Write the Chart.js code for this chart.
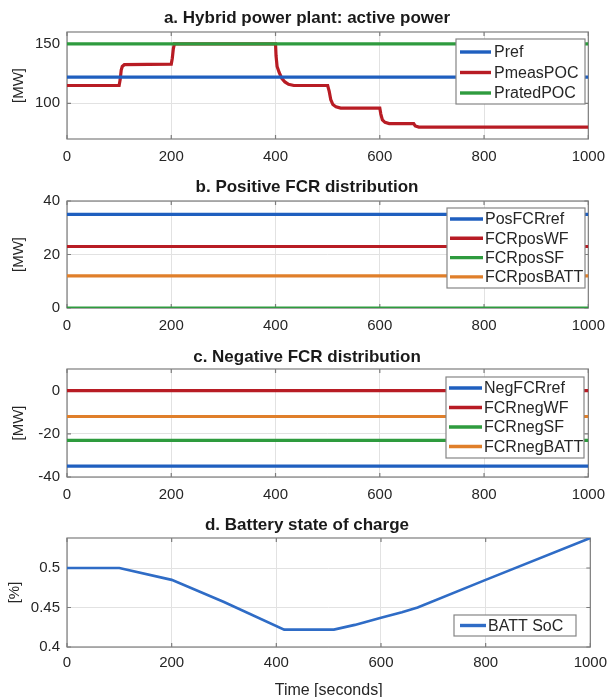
<!DOCTYPE html>
<html><head><meta charset="utf-8">
<script src="https://cdn.jsdelivr.net/npm/chart.js@4.4.0/dist/chart.umd.min.js"></script>
<style>
html,body{margin:0;padding:0;background:#fff;overflow:hidden;width:614px;height:697px;position:relative;}
canvas{position:absolute;left:0;}
</style></head><body>
<canvas id="ca" width="614" height="170" style="top:0px"></canvas>
<canvas id="cb" width="614" height="170" style="top:170px"></canvas>
<canvas id="cc" width="614" height="170" style="top:340px"></canvas>
<canvas id="cd" width="614" height="190" style="top:510px"></canvas>
<script>
// ---------- data ----------
const timeTicks = [0, 200, 400, 600, 800, 1000];

// a. Hybrid power plant: active power
const pref = [[0, 122], [1000, 122]];
const pmeasPOC = [[0,115],[100,115],[102,120],[104,128],[106,131],[110,132.5],[200,133],[202,138],[204,146],[206,150],[400,150],[401,140],[403,131],[407,126],[412,121],[418,118],[425,116],[435,115],[500,115],[503,110],[506,103],[510,99],[516,97],[525,96],[600,96],[602,91],[605,86],[610,84],[618,83],[665,83],[668,81],[675,80],[1000,80]];
const pratedPOC = [[0, 150], [1000, 150]];
const yTicksA = [100, 150];

// b. Positive FCR distribution
const posFCRref = [[0, 35], [1000, 35]];
const fcrPosWF = [[0, 23], [1000, 23]];
const fcrPosSF = [[0, 0], [1000, 0]];
const fcrPosBATT = [[0, 12], [1000, 12]];
const yTicksB = [0, 20, 40];

// c. Negative FCR distribution
const negFCRref = [[0, -35], [1000, -35]];
const fcrNegWF = [[0, 0], [1000, 0]];
const fcrNegSF = [[0, -23], [1000, -23]];
const fcrNegBATT = [[0, -12], [1000, -12]];
const yTicksC = [-40, -20, 0];

// d. Battery state of charge
const battSoC = [[0,0.5],[100,0.5],[200,0.485],[300,0.457],[415,0.422],[510,0.422],[550,0.428],[600,0.437],[640,0.444],[670,0.45],[800,0.485],[1000,0.538]];
const yTicksD = [0.4, 0.45, 0.5];

// ---------- styling ----------
const FONT = "'Liberation Sans', Arial, Helvetica, sans-serif";
Chart.defaults.font.family = FONT;
Chart.defaults.color = '#262626';
const C_BLUE = '#1f5fbf', C_RED = '#b81c24', C_GREEN = '#2e9b3e', C_ORANGE = '#e07f2a', C_SOC = '#2f6cc6';

const toXY = arr => arr.map(p => ({x: p[0], y: p[1]}));

const frameTicks = {
  id: 'frameTicks',
  beforeDatasetsDraw(chart) {
    const {ctx, chartArea: a, scales} = chart;
    ctx.save();
    ctx.strokeStyle = '#7d7d7d';
    ctx.lineWidth = 1.2;
    ctx.beginPath();
    scales.x.ticks.forEach(t => {
      const px = scales.x.getPixelForValue(t.value);
      ctx.moveTo(px, a.top); ctx.lineTo(px, a.top + 4);
      ctx.moveTo(px, a.bottom); ctx.lineTo(px, a.bottom - 4);
    });
    scales.y.ticks.forEach(t => {
      const py = scales.y.getPixelForValue(t.value);
      ctx.moveTo(a.left, py); ctx.lineTo(a.left + 4, py);
      ctx.moveTo(a.right, py); ctx.lineTo(a.right - 4, py);
    });
    ctx.stroke();
    ctx.strokeRect(a.left, a.top, a.width, a.height);
    ctx.restore();
  }
};

const boxLegend = {
  id: 'boxLegend',
  afterDatasetsDraw(chart, args, o) {
    const ctx = chart.ctx;
    const ds = chart.data.datasets;
    ctx.save();
    ctx.fillStyle = '#fff';
    ctx.fillRect(o.left, o.top, o.width, o.height);
    ctx.strokeStyle = '#858585';
    ctx.lineWidth = 1.2;
    ctx.strokeRect(o.left, o.top, o.width, o.height);
    ctx.font = o.fontSize + 'px ' + FONT;
    ctx.textBaseline = 'middle';
    ctx.textAlign = 'left';
    ds.forEach((d, i) => {
      const y = o.top + o.first + i * o.rowH;
      ctx.strokeStyle = d.borderColor;
      ctx.lineWidth = 3.4;
      ctx.beginPath();
      ctx.moveTo(o.left + o.l0, y); ctx.lineTo(o.left + o.l1, y);
      ctx.stroke();
      ctx.fillStyle = '#262626';
      ctx.fillText(d.label, o.left + o.tx, y + 1);
    });
    ctx.restore();
  }
};

function ds(label, data, color, order, width) {
  return {label, data: toXY(data), borderColor: color, backgroundColor: color,
    borderWidth: width || 3.2, pointRadius: 0, tension: 0, fill: false, order: order || 0, yAxisID: 'y'};
}

function makeChart(id, p) {
  return new Chart(document.getElementById(id), {
    type: 'line',
    data: {datasets: p.datasets},
    plugins: [frameTicks, boxLegend],
    options: {
      responsive: false, animation: false, parsing: true,
      layout: {padding: {left: 0, right: 0, top: 0, bottom: 0}},
      plugins: {
        legend: {display: false}, tooltip: {enabled: false},
        title: {display: true, text: p.title, color: '#1a1a1a',
          font: {size: 17, weight: 'bold'}, padding: p.titlePad},
        boxLegend: p.legend
      },
      scales: {
        x: {type: 'linear', min: 0, max: 1000,
          afterBuildTicks: s => { s.ticks = timeTicks.map(v => ({value: v})); },
          afterFit: s => { s.height = p.xAxisH; },
          ticks: {callback: v => String(v), font: {size: 15}, padding: p.xTickPad, maxRotation: 0, autoSkip: false},
          grid: {color: '#e2e2e2', drawTicks: false, lineWidth: 1},
          border: {display: false},
          title: p.xTitle ? {display: true, text: p.xTitle, font: {size: 16}, padding: {top: 0, bottom: 0}} : {display: false}
        },
        y: {type: 'linear', position: 'left', min: p.yMin, max: p.yMax,
          afterBuildTicks: s => { s.ticks = p.yTicks.map(v => ({value: v})); },
          afterFit: s => { s.width = 67; },
          ticks: {callback: v => String(v), font: {size: 15}, padding: 7, autoSkip: false},
          grid: {color: '#e2e2e2', drawTicks: false, lineWidth: 1},
          border: {display: false},
          title: {display: true, text: p.yTitle, font: {size: 15}, padding: {top: p.yTitlePad, bottom: 0}}
        },
        yR: {type: 'linear', position: 'right', min: 0, max: 1,
          afterFit: s => { s.width = 21; },
          ticks: {display: false},
          grid: {display: false, drawTicks: false},
          border: {display: false},
          title: {display: false}
        }
      }
    }
  });
}

makeChart('ca', {
  title: 'a. Hybrid power plant: active power',
  titlePad: {top: 8, bottom: 3.6},
  xAxisH: 31, xTickPad: 9,
  yMin: 70, yMax: 160, yTicks: yTicksA, yTitle: '[MW]', yTitlePad: 10,
  datasets: [ds('Pref', pref, C_BLUE, 0), ds('PmeasPOC', pmeasPOC, C_RED, 2), ds('PratedPOC', pratedPOC, C_GREEN, 1)],
  legend: {left: 456, top: 39, width: 129, height: 65, first: 13, rowH: 20.5, l0: 4, l1: 35, tx: 38, fontSize: 16}
});

makeChart('cb', {
  title: 'b. Positive FCR distribution',
  titlePad: {top: 6.8, bottom: 3.8},
  xAxisH: 32, xTickPad: 9,
  yMin: 0, yMax: 40, yTicks: yTicksB, yTitle: '[MW]', yTitlePad: 10,
  datasets: [ds('PosFCRref', posFCRref, C_BLUE), ds('FCRposWF', fcrPosWF, C_RED), ds('FCRposSF', fcrPosSF, C_GREEN), ds('FCRposBATT', fcrPosBATT, C_ORANGE)],
  legend: {left: 447, top: 38, width: 138, height: 80, first: 11, rowH: 19.3, l0: 3, l1: 36, tx: 38, fontSize: 16}
});

makeChart('cc', {
  title: 'c. Negative FCR distribution',
  titlePad: {top: 6.8, bottom: 1.8},
  xAxisH: 33, xTickPad: 9,
  yMin: -40, yMax: 10, yTicks: yTicksC, yTitle: '[MW]', yTitlePad: 10,
  datasets: [ds('NegFCRref', negFCRref, C_BLUE), ds('FCRnegWF', fcrNegWF, C_RED), ds('FCRnegSF', fcrNegSF, C_GREEN), ds('FCRnegBATT', fcrNegBATT, C_ORANGE)],
  legend: {left: 446, top: 37, width: 138, height: 81, first: 11, rowH: 19.5, l0: 3, l1: 36, tx: 38, fontSize: 16}
});

makeChart('cd', {
  title: 'd. Battery state of charge',
  titlePad: {top: 4.8, bottom: 2.8},
  xAxisH: 53, xTickPad: 7, xTitle: 'Time [seconds]',
  yMin: 0.4, yMax: 0.538, yTicks: yTicksD, yTitle: '[%]', yTitlePad: 6,
  datasets: [ds('BATT SoC', battSoC, C_SOC, 0, 2.6)],
  legend: {left: 454, top: 105, width: 122, height: 21, first: 10.5, rowH: 20, l0: 6, l1: 32, tx: 34, fontSize: 16}
});
</script>
</body></html>
